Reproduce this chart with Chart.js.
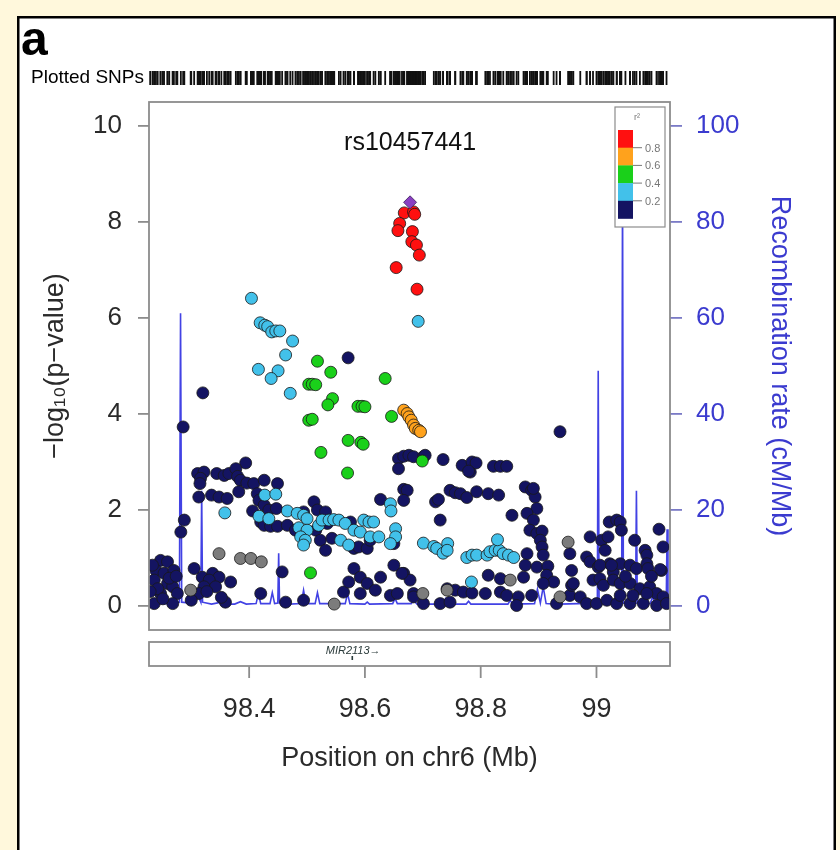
<!DOCTYPE html>
<html><head><meta charset="utf-8">
<script src="https://cdn.jsdelivr.net/npm/chart.js@4.4.1/dist/chart.umd.min.js"></script>
<style>html,body{margin:0;padding:0;background:#fff8dc;}canvas{display:block;}</style>
</head><body>
<canvas id="c" width="840" height="850"></canvas>
<script>
// ---------------- DATA ----------------
const panelLetter = 'a';
const leadSNP = 'rs10457441';
const xTicks = [98.4, 98.6, 98.8, 99.0];
const xTickLabels = ['98.4', '98.6', '98.8', '99'];
const yTicks = [0, 2, 4, 6, 8, 10];
const y2Ticks = [0, 20, 40, 60, 80, 100];
const ldBreaks = ['0.8', '0.6', '0.4', '0.2'];
const geneNames = ['MIR2113'];
const genePos = [98.578];

const leadPos = [98.678];
const leadP = [8.41];

const redPos = [98.668, 98.684, 98.686, 98.660, 98.657, 98.682, 98.681, 98.689, 98.694, 98.654, 98.690];
const redP   = [8.19, 8.21, 8.16, 7.97, 7.82, 7.80, 7.59, 7.52, 7.31, 7.05, 6.60];

const orangePos = [98.667, 98.673, 98.676, 98.680, 98.684, 98.687, 98.693, 98.696];
const orangeP   = [4.08, 4.01, 3.94, 3.87, 3.77, 3.70, 3.66, 3.63];

const greenPos = [98.518, 98.541, 98.635, 98.503, 98.509, 98.515, 98.544, 98.536, 98.588, 98.595, 98.600,
  98.646, 98.503, 98.509, 98.571, 98.593, 98.597, 98.524, 98.570, 98.506, 98.699];
const greenP = [5.10, 4.87, 4.74, 4.62, 4.62, 4.61, 4.32, 4.19, 4.16, 4.16, 4.15,
  3.95, 3.87, 3.89, 3.45, 3.41, 3.37, 3.20, 2.77, 0.69, 3.02];

const cyanPos = [98.404, 98.419, 98.427, 98.432, 98.439, 98.446, 98.453, 98.475, 98.463, 98.416, 98.450, 98.438, 98.471, 98.692,
  98.427, 98.446, 98.358, 98.417, 98.434, 98.466, 98.483, 98.494, 98.500, 98.486, 98.500, 98.489, 98.497, 98.494,
  98.520, 98.526, 98.538, 98.546, 98.555, 98.566, 98.558, 98.572, 98.581, 98.592, 98.598, 98.607, 98.615, 98.609,
  98.624, 98.644, 98.645, 98.653, 98.653, 98.644,
  98.701, 98.719, 98.724, 98.735, 98.743, 98.742, 98.776, 98.785, 98.793, 98.811, 98.816, 98.825, 98.832, 98.839,
  98.848, 98.857, 98.829, 98.784];
const cyanP = [6.41, 5.90, 5.85, 5.82, 5.71, 5.73, 5.73, 5.52, 5.23, 4.93, 4.90, 4.74, 4.43, 5.93,
  2.31, 2.33, 1.94, 1.87, 1.82, 1.98, 1.93, 1.89, 1.82, 1.63, 1.58, 1.44, 1.37, 1.27,
  1.68, 1.79, 1.79, 1.80, 1.79, 1.72, 1.37, 1.27, 1.58, 1.54, 1.79, 1.75, 1.75, 1.44,
  1.44, 2.13, 1.98, 1.61, 1.44, 1.30,
  1.31, 1.24, 1.20, 1.10, 1.30, 1.16, 1.01, 1.06, 1.06, 1.06, 1.13, 1.16, 1.16, 1.09,
  1.06, 1.01, 1.38, 0.50];

const grayPos = [98.348, 98.385, 98.403, 98.421, 98.299, 98.547, 98.951, 98.851, 98.700, 98.742, 98.937];
const grayP   = [1.09, 0.99, 0.99, 0.92, 0.33, 0.04, 1.33, 0.54, 0.26, 0.33, 0.19];

const navyPos = [98.571, 98.320, 98.286, 98.937,
  98.394, 98.311, 98.322, 98.316, 98.344, 98.357, 98.365, 98.377, 98.380, 98.385, 98.396, 98.408, 98.426, 98.449,
  98.315, 98.313, 98.335, 98.348, 98.362, 98.382, 98.414, 98.417, 98.426, 98.406, 98.434, 98.447, 98.420, 98.426,
  98.437, 98.449, 98.466, 98.480, 98.512, 98.518, 98.494, 98.532, 98.535, 98.515, 98.523, 98.543, 98.532, 98.575,
  98.581, 98.589, 98.604, 98.609, 98.627, 98.667, 98.673, 98.667, 98.650, 98.288, 98.282,
  98.658, 98.667, 98.676, 98.684, 98.701, 98.658, 98.704, 98.735, 98.768, 98.782, 98.785, 98.792, 98.779, 98.822,
  98.834, 98.845,
  98.722, 98.727, 98.747, 98.756, 98.765, 98.776, 98.793, 98.813, 98.831, 98.877, 98.888, 98.894, 98.897, 98.854,
  98.880, 98.891, 98.730, 98.885, 98.897, 98.906, 98.903, 98.906, 98.880, 98.908, 98.877, 98.897, 98.916, 98.813,
  98.834, 98.874, 98.914, 98.926, 98.908, 98.891,
  98.667, 98.678, 98.742, 98.756, 98.770, 98.785, 98.808, 98.834, 98.845, 98.865, 98.888, 98.684, 98.701, 98.730,
  98.747, 98.862, 98.931, 98.954, 98.957, 98.972,
  98.247, 98.259, 98.239, 98.253, 98.270, 98.236, 98.259, 98.268, 98.276, 98.247, 98.236, 98.268, 98.305, 98.319,
  98.337, 98.348, 98.331, 98.322, 98.342, 98.313, 98.368, 98.359, 98.420, 98.457, 98.463, 98.494, 98.563, 98.572,
  98.581, 98.592, 98.604, 98.592, 98.627, 98.618, 98.644, 98.656, 98.664, 98.684, 98.650,
  98.989, 99.009, 99.020, 99.022, 99.035, 99.041, 99.043, 99.066, 98.983, 98.989, 99.015, 99.003, 99.023, 99.029,
  99.041, 99.058, 99.069, 99.084, 99.087, 99.087, 99.115, 99.112, 98.960, 98.994, 99.006, 99.012, 99.029, 99.041,
  99.058, 99.075, 99.092, 99.104, 99.115, 98.983, 99.000, 99.018, 99.035, 99.058, 99.081, 99.104, 99.121, 99.087,
  99.063, 99.041, 98.954, 98.957, 99.006, 99.026, 99.089, 99.110,
  98.233, 98.242, 98.262, 98.229, 98.251, 98.274, 98.300, 98.327, 98.352, 99.108, 99.050, 99.095];
const navyP = [5.17, 4.44, 3.73, 3.63,
  2.98, 2.76, 2.79, 2.66, 2.76, 2.72, 2.76, 2.86, 2.70, 2.62, 2.56, 2.55, 2.62, 2.55,
  2.55, 2.27, 2.31, 2.27, 2.24, 2.38, 2.34, 2.20, 2.10, 1.98, 2.00, 2.03, 1.75, 1.68,
  1.66, 1.66, 1.68, 1.58, 2.17, 2.00, 1.96, 1.96, 1.72, 1.58, 1.37, 1.41, 1.16, 1.75,
  1.20, 1.23, 1.20, 1.37, 2.22, 2.43, 2.41, 2.20, 1.30, 1.79, 1.54,
  3.07, 3.12, 3.14, 3.11, 3.11, 2.86, 3.14, 3.05, 2.93, 2.79, 3.00, 2.98, 2.81, 2.91,
  2.91, 2.91,
  2.17, 2.22, 2.41, 2.36, 2.34, 2.26, 2.38, 2.34, 2.31, 2.48, 2.41, 2.27, 2.03, 1.89,
  1.93, 1.79, 1.79, 1.58, 1.51, 1.56, 1.37, 1.23, 1.09, 1.06, 0.85, 0.81, 0.83, 0.64,
  0.57, 0.60, 0.64, 0.50, 0.47, 2.45,
  0.68, 0.54, 0.36, 0.33, 0.29, 0.27, 0.26, 0.29, 0.22, 0.19, 0.22, 0.26, 0.05, 0.05,
  0.08, 0.01, 0.05, 0.22, 0.43, 0.19,
  0.95, 0.92, 0.74, 0.68, 0.74, 0.54, 0.47, 0.40, 0.26, 0.26, 0.05, 0.05, 0.78, 0.60,
  0.68, 0.60, 0.54, 0.40, 0.40, 0.26, 0.50, 0.08, 0.26, 0.71, 0.08, 0.12, 0.29, 0.50,
  0.78, 0.60, 0.47, 0.26, 0.60, 0.33, 0.22, 0.26, 0.68, 0.19, 0.85,
  1.44, 1.37, 1.44, 1.75, 1.79, 1.75, 1.58, 1.37, 1.02, 0.92, 1.16, 0.81, 0.88, 0.71,
  0.88, 0.85, 0.78, 1.16, 1.06, 0.88, 1.23, 0.74, 0.47, 0.54, 0.57, 0.43, 0.54, 0.47,
  0.47, 0.36, 0.40, 0.26, 0.19, 0.05, 0.05, 0.12, 0.05, 0.05, 0.05, 0.01, 0.05, 0.26,
  0.22, 0.22, 1.09, 0.74, 0.85, 0.85, 0.78, 0.76,
  0.85, 0.36, 0.58, 0.30, 0.15, 0.62, 0.12, 0.30, 0.18, 1.60, 0.62, 0.62];

const recombPos = [98.226, 98.270, 98.2795, 98.2815, 98.2835, 98.300, 98.313, 98.3165, 98.318, 98.3195, 98.335,
  98.352, 98.360, 98.375, 98.385, 98.395, 98.412, 98.416, 98.420, 98.436, 98.440, 98.444, 98.4495, 98.451, 98.4525,
  98.462, 98.466, 98.470, 98.490, 98.494, 98.498, 98.514, 98.518, 98.522, 98.566, 98.570, 98.574, 98.600, 98.604,
  98.608, 98.648, 98.652, 98.656, 98.680, 98.684, 98.690, 98.735, 98.739, 98.743, 98.775, 98.779, 98.783, 98.847,
  98.851, 98.855, 98.893, 98.898, 98.903, 98.908, 98.913, 98.928, 98.932, 98.936, 99.0015, 99.003, 99.0045, 99.013,
  99.017, 99.021, 99.0435, 99.045, 99.0465, 99.0675, 99.069, 99.0705, 99.093, 99.097, 99.101, 99.1205, 99.122,
  99.1235, 99.127];
const recombRate = [0.4, 0.5, 0.8, 61, 0.8, 0.6, 1.8, 0.8, 24, 0.8, 0.4,
  0.8, 0.4, 0.4, 0.9, 0.4, 0.5, 2.6, 0.5, 0.5, 2.8, 0.5, 0.6, 11, 0.6,
  0.5, 1.2, 0.4, 0.5, 3.3, 0.5, 0.5, 2.8, 0.5, 0.5, 2.6, 0.5, 0.4, 0.8,
  0.4, 0.5, 1.6, 0.5, 0.5, 1.2, 0.4, 0.4, 1.5, 0.4, 0.4, 1.0, 0.4, 0.4,
  1.2, 0.4, 0.5, 3.5, 0.6, 4.0, 0.5, 0.4, 1.2, 0.4, 0.6, 49, 0.6, 0.5,
  2.0, 0.5, 0.6, 90, 0.6, 0.6, 24, 0.6, 0.5, 2.0, 0.5, 0.6, 16,
  0.6, 0.5];

// ---------------- STYLE / BUILD ----------------
const FONT = "'Liberation Sans', Arial, Helvetica, sans-serif";
const COL = { navy: '#141462', cyan: '#42c1ea', green: '#1ad01a', orange: '#ffa21c', red: '#ff1010', gray: '#7c7c7c', lead: '#8a3fc2' };
const legendColors = [COL.red, COL.orange, COL.green, COL.cyan, COL.navy];
const BLUE = '#3b3bcf';

function xy(px, py) { return px.map((v, i) => ({ x: v, y: py[i] })); }
function pts(label, px, py, color, order) {
  return { label, data: xy(px, py), backgroundColor: color, borderColor: 'rgba(25,25,25,0.8)', borderWidth: 1,
    pointRadius: 6, pointHoverRadius: 6, order, yAxisID: 'y' };
}

const datasets = [
  { label: 'recomb', data: xy(recombPos, recombRate), yAxisID: 'y2', showLine: true, borderColor: 'rgba(45,45,225,0.9)',
    borderWidth: 1.6, pointRadius: 0, tension: 0, order: 10 },
  pts('navy', navyPos, navyP, COL.navy, 6),
  pts('gray', grayPos, grayP, COL.gray, 5),
  pts('cyan', cyanPos, cyanP, COL.cyan, 4),
  pts('green', greenPos, greenP, COL.green, 3),
  pts('orange', orangePos, orangeP, COL.orange, 2),
  pts('red', redPos, redP, COL.red, 1),
  { label: 'lead', data: xy(leadPos, leadP), pointStyle: 'rectRot', pointRadius: 6.5, backgroundColor: COL.lead,
    borderColor: 'rgba(60,30,90,0.8)', borderWidth: 1, order: 0, yAxisID: 'y' }
];

const decor = {
  id: 'decor',
  beforeDraw(chart) {
    const c = chart.ctx;
    c.save();
    c.fillStyle = '#fff8dc'; c.fillRect(0, 0, 840, 850);
    c.fillStyle = '#ffffff'; c.fillRect(18, 17, 817, 840);
    c.strokeStyle = '#000'; c.lineWidth = 2.5; c.strokeRect(18.25, 17.25, 816.5, 840);
    c.restore();
  },
  afterDraw(chart) {
    const c = chart.ctx, a = chart.chartArea, xs = chart.scales.x;
    c.save();
    // plot box
    c.strokeStyle = '#8c8c8c'; c.lineWidth = 1.8;
    c.strokeRect(a.left, a.top, a.right - a.left, a.bottom - a.top);
    // gene track
    c.strokeRect(a.left, 642, a.right - a.left, 24);
    // x tick marks under gene track
    xTicks.forEach(v => { const px = xs.getPixelForValue(v); c.beginPath(); c.moveTo(px, 666); c.lineTo(px, 678); c.stroke(); });
    // gene
    genePos.forEach((g, i) => {
      const px = xs.getPixelForValue(g);
      c.fillStyle = '#2a3a3a'; c.font = 'italic 11px ' + FONT; c.textAlign = 'center'; c.textBaseline = 'middle';
      c.fillText(geneNames[i] + '\u2192', px + 1, 651);
      c.fillRect(px - 0.7, 656, 1.6, 4);
    });
    // panel letter
    c.fillStyle = '#000'; c.font = 'bold 48px ' + FONT; c.textAlign = 'left'; c.textBaseline = 'alphabetic';
    c.fillText(panelLetter, 21, 55);
    // plotted SNPs rug
    c.font = '19px ' + FONT; c.textAlign = 'right'; c.textBaseline = 'middle';
    c.fillText('Plotted SNPs', 144, 78);
    c.strokeStyle = '#111'; c.lineWidth = 1.8;
    chart.data.datasets.forEach(ds => {
      if (ds.label === 'recomb') return;
      ds.data.forEach(p => { const px = xs.getPixelForValue(p.x); c.beginPath(); c.moveTo(px, 71); c.lineTo(px, 85); c.stroke(); });
    });
    // lead SNP label
    c.fillStyle = '#111'; c.font = '25px ' + FONT; c.textAlign = 'center'; c.textBaseline = 'middle';
    c.fillText(leadSNP, xs.getPixelForValue(leadPos[0]), 143);
    // LD legend
    const lx = 615, ly = 107, lw = 50, lh = 120;
    c.fillStyle = '#fff'; c.fillRect(lx, ly, lw, lh);
    c.strokeStyle = '#8c8c8c'; c.lineWidth = 1.2; c.strokeRect(lx, ly, lw, lh);
    c.fillStyle = '#777'; c.font = '9px ' + FONT; c.textAlign = 'center';
    c.fillText('r\u00B2', 637, 118);
    const bx = 618, by = 130, bw = 15, seg = 17.7;
    legendColors.forEach((col, i) => { c.fillStyle = col; c.fillRect(bx, by + i * seg, bw, seg + 0.3); });
    c.strokeStyle = '#777'; c.lineWidth = 1; c.fillStyle = '#777'; c.font = '11px ' + FONT; c.textAlign = 'left';
    ldBreaks.forEach((t, i) => {
      const yy = by + (i + 1) * seg;
      c.beginPath(); c.moveTo(bx + bw, yy); c.lineTo(bx + bw + 9, yy); c.stroke();
      c.fillText(t, 645, yy + 1);
    });
    c.restore();
  }
};

new Chart(document.getElementById('c'), {
  type: 'scatter',
  data: { datasets },
  options: {
    responsive: false, animation: false, devicePixelRatio: 1,
    layout: { padding: { top: 102, left: 0, right: 0, bottom: 0 } },
    plugins: { legend: { display: false }, tooltip: { enabled: false } },
    scales: {
      x: {
        type: 'linear', position: 'bottom', min: 98.227, max: 99.127,
        afterBuildTicks: s => { s.ticks = xTicks.map(v => ({ value: v })); },
        afterFit: s => { s.height = 220; },
        grid: { display: false, drawTicks: false }, border: { display: false },
        ticks: { padding: 63, color: '#2a2a2a', font: { family: FONT, size: 27 }, maxRotation: 0,
          callback: (v, i) => xTickLabels[i] },
        title: { display: true, text: 'Position on chr6 (Mb)', color: '#2a2a2a', font: { family: FONT, size: 27 },
          padding: { top: 0, bottom: 75 } }
      },
      y: {
        type: 'linear', position: 'left', min: -0.5, max: 10.5,
        afterBuildTicks: s => { s.ticks = yTicks.map(v => ({ value: v })); },
        afterFit: s => { s.width = 149; },
        grid: { drawOnChartArea: false, drawTicks: true, tickLength: 11, color: '#8c8c8c', lineWidth: 1.8 },
        border: { display: false },
        ticks: { padding: 16, color: '#2a2a2a', font: { family: FONT, size: 26 } },
        title: { display: true, text: '\u2212log\u2081\u2080(p\u2212value)', color: '#2a2a2a', font: { family: FONT, size: 27 },
          padding: { top: 39, bottom: 0 } }
      },
      y2: {
        type: 'linear', position: 'right', min: -5, max: 105,
        afterBuildTicks: s => { s.ticks = y2Ticks.map(v => ({ value: v })); },
        afterFit: s => { s.width = 170; },
        grid: { drawOnChartArea: false, drawTicks: true, tickLength: 12, color: '#7a7ac6', lineWidth: 1.8 },
        border: { display: false },
        ticks: { padding: 14, color: BLUE, font: { family: FONT, size: 26 } },
        title: { display: true, text: 'Recombination rate (cM/Mb)', color: BLUE, font: { family: FONT, size: 27 },
          padding: { top: 44, bottom: 0 } }
      }
    }
  },
  plugins: [decor]
});
</script>
</body></html>
